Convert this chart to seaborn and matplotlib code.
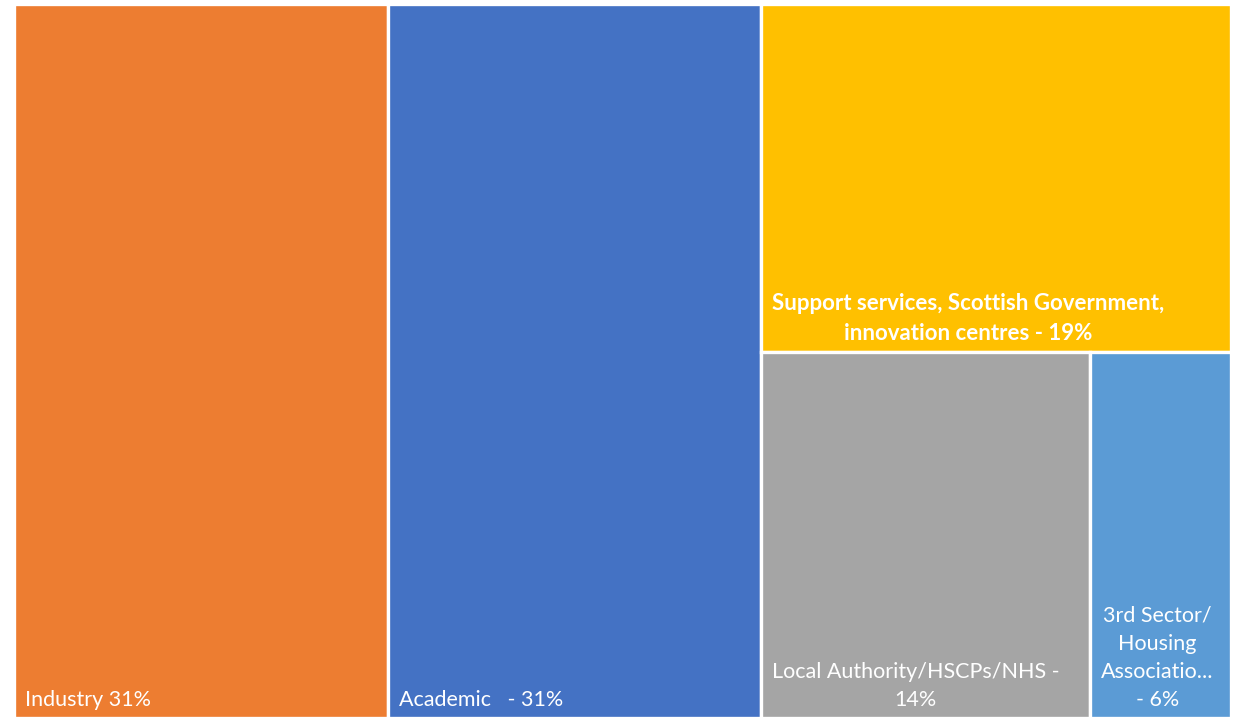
import matplotlib
matplotlib.use("Agg")
import matplotlib.pyplot as plt
from matplotlib.patches import Rectangle
import seaborn as sns

labels = [
    "Industry 31%",
    "Academic   - 31%",
    "Support services, Scottish Government,\ninnovation centres - 19%",
    "Local Authority/HSCPs/NHS -\n14%",
    "3rd Sector/\nHousing\nAssociatio...\n- 6%",
]
values = [31, 31, 19, 14, 6]
colors = ["#ED7D31", "#4472C4", "#FFC000", "#A5A5A5", "#5B9BD5"]
bold = [False, False, True, False, False]

sns.set_style("white")
plt.rcParams["font.family"] = ["Lato", "DejaVu Sans"]

total = sum(values)
# layout: first two full-height columns, the rest stacked in a right column
rects = []
x = 0.0
for v in values[:2]:
    w = v / total
    rects.append((x, 0.0, w, 1.0))
    x += w
right_w = 1.0 - x
rest = sum(values[2:])
top_h = values[2] / rest
rects.append((x, 1.0 - top_h, right_w, top_h))
bottom = values[3:]
bx = x
for v in bottom:
    w = right_w * v / sum(bottom)
    rects.append((bx, 0.0, w, 1.0 - top_h))
    bx += w

fig = plt.figure(figsize=(12.38, 7.18), dpi=100)
ax = fig.add_axes([14 / 1238, 0, 1217 / 1238, 714 / 718])
ax.set_xlim(0, 1)
ax.set_ylim(0, 1)
ax.axis("off")

for (rx, ry, rw, rh), lab, c, b in zip(rects, labels, colors, bold):
    ax.add_patch(Rectangle((rx, ry), rw, rh, facecolor=c, edgecolor="white", linewidth=2.4))
    ax.text(rx + 11 / 1217, ry + 8 / 714, lab, color="white",
            fontsize=16 if b else 15.5,
            fontweight="bold" if b else "normal", ha="left", va="bottom",
            multialignment="center", linespacing=1.5)

fig.savefig("out.png", dpi=100)
